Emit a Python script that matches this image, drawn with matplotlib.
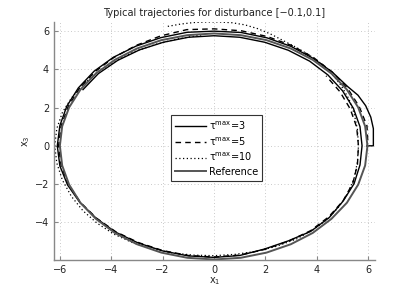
import matplotlib
matplotlib.use("Agg")
import matplotlib.pyplot as plt

# Reference trajectory (grey)
ref_x = [5.97, 5.88, 5.61, 5.17, 4.57, 3.84, 2.99, 2.04, 1.04, 0.00, -1.04, -2.05, -3.00, -3.86,
         -4.60, -5.20, -5.64, -5.91, -6.00, -5.91, -5.64, -5.20, -4.60, -3.86, -3.00, -2.05,
         -1.04, 0.00, 1.04, 2.04, 2.99, 3.84, 4.57, 5.17, 5.61, 5.88, 5.97]
ref_y = [0.00, 1.02, 2.01, 2.94, 3.78, 4.50, 5.09, 5.53, 5.79, 5.88, 5.79, 5.53, 5.09, 4.50,
         3.78, 2.94, 2.01, 1.02, 0.00, -1.03, -2.03, -2.98, -3.82, -4.56, -5.15, -5.59,
         -5.86, -5.95, -5.86, -5.59, -5.15, -4.56, -3.82, -2.98, -2.03, -1.03, 0.00]

# tau_max = 3 (solid black)
t3_x = [5.97, 6.20, 6.20, 6.10, 5.90, 5.60, 5.20, 4.60, 3.85, 3.00, 2.06, 1.05, 0.00, -1.05, -2.07,
        -3.03, -3.92, -4.67, -5.28, -5.73, -6.00, -6.10, -6.00, -5.70, -5.22, -4.58, -3.83,
        -2.96, -2.00, -1.01, 0.00, 1.00, 1.97, 2.90, 3.76, 4.48, 5.02, 5.45, 5.68, 5.76,
        5.68, 5.42, 5.00, 4.43, 3.72, 2.89, 1.97, 1.00, 0.00, -1.00, -1.97, -2.90, -3.75,
        -4.50, -5.10]
t3_y = [0.00, 0.00, 0.90, 1.50, 2.10, 2.65, 3.10, 3.86, 4.58, 5.20, 5.65, 5.93, 6.00, 5.94, 5.66,
        5.22, 4.63, 3.90, 3.03, 2.07, 1.06, 0.00, -1.05, -2.05, -2.97, -3.80, -4.52,
        -5.08, -5.50, -5.76, -5.84, -5.74, -5.40, -4.97, -4.48, -3.76, -2.90, -1.98, -1.00, 0.00,
        1.00, 1.97, 2.88, 3.71, 4.43, 5.00, 5.42, 5.68, 5.76, 5.68, 5.42, 5.02, 4.47,
        3.78, 2.94]

# tau_max = 5 (dashed black)
t5_x = [5.98, 5.95, 5.65, 5.20, 4.60, 3.87, 3.02, 2.07, 1.06, 0.00, -1.06, -2.08, -3.04, -3.90,
        -4.64, -5.24, -5.68, -5.95, -6.05, -5.95, -5.66, -5.20, -4.57, -3.82, -2.95, -2.00,
        -1.00, 0.00, 1.00, 1.98, 2.92, 3.76, 4.46, 5.02, 5.40, 5.58, 5.62, 5.55, 5.30, 4.90,
        4.36]
t5_y = [0.30, 1.05, 2.05, 3.00, 3.86, 4.62, 5.25, 5.72, 6.02, 6.12, 6.08, 5.75, 5.25, 4.62,
        3.87, 3.00, 2.04, 1.04, 0.00, -1.04, -2.04, -2.96, -3.79, -4.50, -5.06, -5.48,
        -5.74, -5.82, -5.72, -5.42, -4.98, -4.44, -3.72, -2.88, -1.96, -0.99, 0.00, 0.98, 1.93,
        2.83, 3.66]

# tau_max = 10 (dotted black)
t10_x = [-1.80, -1.30, -0.80, -0.30, 0.20, 0.70, 1.20, 1.70, 2.20, 2.70, 3.20, 3.70, 4.20, 4.60,
         4.95, 5.25, 5.45, 5.58, 5.62, 5.58, 5.45, 5.20, 4.85, 4.40, 3.85, 3.20, 2.45, 1.65,
         0.82, 0.00, -0.82, -1.65, -2.45, -3.20, -3.90, -4.55, -5.10, -5.55, -5.90, -6.12,
         -6.20, -6.12, -5.90, -5.55, -5.10, -4.55, -3.90, -3.15, -2.30, -1.40, -0.50]
t10_y = [6.25, 6.37, 6.45, 6.48, 6.48, 6.44, 6.33, 6.13, 5.85, 5.50, 5.15, 4.75, 4.28, 3.75,
         3.15, 2.45, 1.70, 0.85, 0.00, -0.85, -1.70, -2.50, -3.20, -3.85, -4.40, -4.88, -5.25,
         -5.52, -5.68, -5.75, -5.72, -5.60, -5.38, -5.05, -4.62, -4.05, -3.40, -2.65, -1.80,
         -0.90, 0.00, 0.90, 1.75, 2.50, 3.20, 3.85, 4.40, 4.90, 5.30, 5.60, 5.80]

labels = [r"$\mathregular{\tau^{max}}$=3", r"$\mathregular{\tau^{max}}$=5",
          r"$\mathregular{\tau^{max}}$=10", "Reference"]
x_ticks = [-6, -4, -2, 0, 2, 4, 6]
y_ticks = [-4, -2, 0, 2, 4, 6]

plt.rcParams['font.family'] = ['DejaVu Sans']
plt.rcParams['mathtext.fontset'] = 'dejavusans'

fig = plt.figure(figsize=(4.15, 2.93), dpi=100)
ax = fig.add_axes([0.130, 0.113, 0.774, 0.812])

ax.plot(t3_x, t3_y, color='black', lw=1.0, linestyle='-', label=labels[0])
ax.plot(t5_x, t5_y, color='black', lw=1.0, linestyle=(0, (4, 3)), label=labels[1])
ax.plot(t10_x, t10_y, color='black', lw=0.9, linestyle=(0, (1, 2)), label=labels[2])
ax.plot(ref_x, ref_y, color='#555555', lw=1.4, linestyle='-', label=labels[3])

ax.set_xlim(-6.23, 6.27)
ax.set_ylim(-5.97, 6.48)
ax.set_xticks(x_ticks)
ax.set_yticks(y_ticks)
ax.set_xticklabels([str(t).replace('-', '\u2212') for t in x_ticks])
ax.set_yticklabels([str(t).replace('-', '\u2212') for t in y_ticks])
ax.grid(True, linestyle=(0, (1, 3)), color='#b8b8b8', lw=0.6)
for s in ['top', 'right']:
    ax.spines[s].set_visible(False)
for s in ['left', 'bottom']:
    ax.spines[s].set_color('#888888')
    ax.spines[s].set_linewidth(1.0)
ax.tick_params(direction='in', length=3, labelsize=7, colors='#888888', labelcolor='#222222')

ax.set_title("Typical trajectories for disturbance [\u22120.1,0.1]", fontsize=7, color='#222222', pad=4)
ax.set_xlabel(r"$\mathregular{x_1}$", fontsize=7, labelpad=0, color='#222222')
ax.set_ylabel(r"$\mathregular{x_3}$", fontsize=7, labelpad=2, color='#222222')

leg = ax.legend(loc='center', bbox_to_anchor=(0.505, 0.47), fontsize=7, frameon=True,
                fancybox=False, edgecolor='#333333', framealpha=1, handlelength=3.2,
                borderpad=0.4, labelspacing=0.35, handletextpad=0.3)
leg.get_frame().set_linewidth(0.8)

fig.savefig("out.png", dpi=100)
